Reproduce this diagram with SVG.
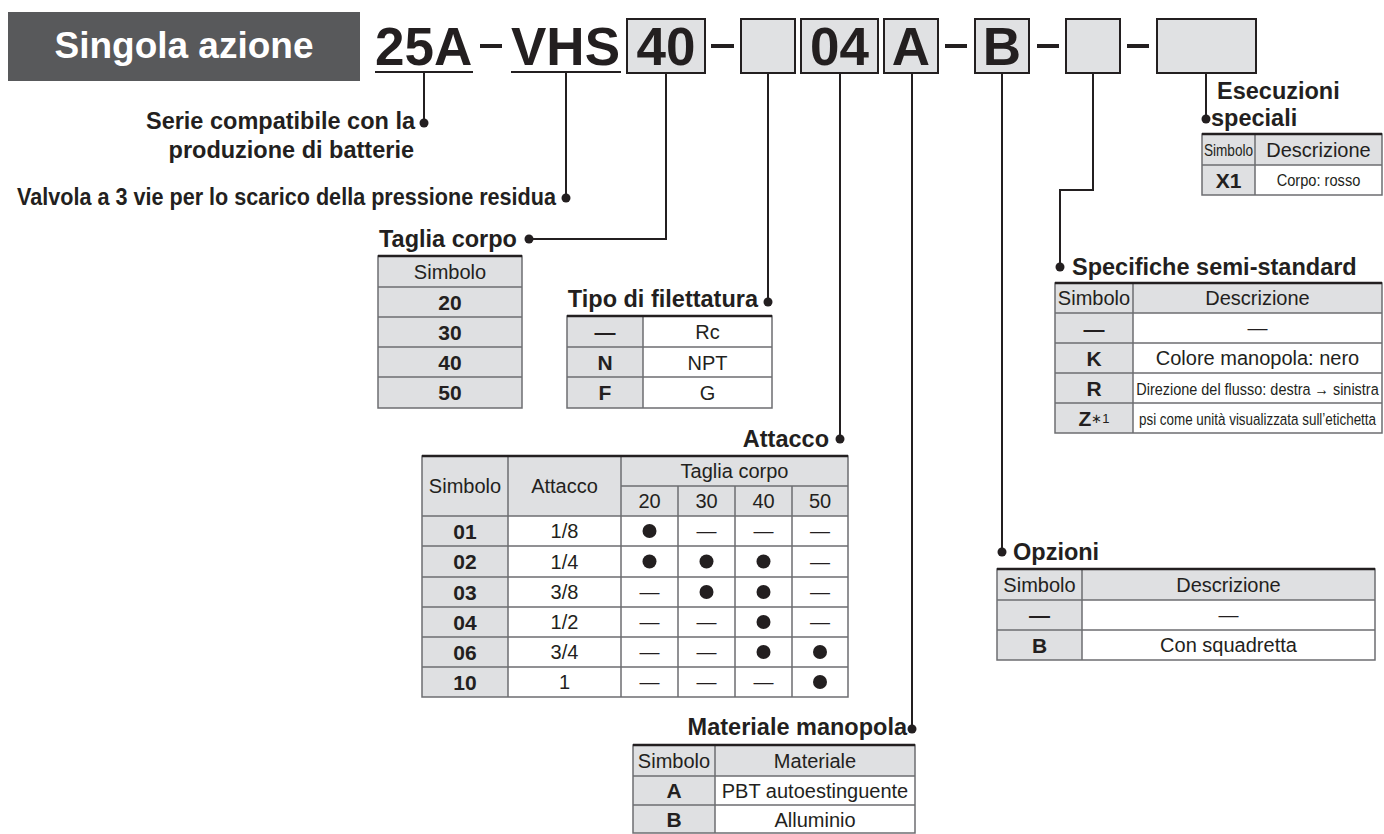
<svg xmlns="http://www.w3.org/2000/svg" width="1384" height="834" viewBox="0 0 1384 834">
<style>
text{font-family:"Liberation Sans",Arial,sans-serif;fill:#231f20}
.lbl{font-weight:bold;font-size:23.5px}
.big{font-weight:bold;font-size:53px}
.th{font-size:20px;text-anchor:middle}
.tb{font-weight:bold;font-size:21px;text-anchor:middle}
.td{font-size:20px;text-anchor:middle}
.sm{font-size:17px;text-anchor:middle}
.g{fill:#dfe0e2}
.grid{stroke:#6d6e71;stroke-width:1.5;fill:none}
.top{stroke:#231f20;stroke-width:2.5}
.box{fill:#e0e1e3;stroke:#231f20;stroke-width:2}
.dash{stroke:#231f20;stroke-width:4}
.con{stroke:#231f20;stroke-width:2;fill:none}
.dot{fill:#231f20}
</style>
<rect width="1384" height="834" fill="#fff"/>

<g id="header">
<rect x="8" y="12" width="352" height="69" fill="#58595b"/>
<text x="184" y="58" text-anchor="middle" style="font-weight:bold;font-size:37px;fill:#fff">Singola azione</text>
</g>

<g id="code">
<text class="big" x="375" y="65">25A</text>
<line x1="375" y1="72" x2="473" y2="72" stroke="#231f20" stroke-width="2"/>
<line class="dash" x1="480" y1="46" x2="502" y2="46"/>
<text class="big" x="511" y="65">VHS</text>
<line x1="511" y1="72" x2="621" y2="72" stroke="#231f20" stroke-width="2"/>
<rect class="box" x="627" y="19" width="78" height="54"/>
<text class="big" x="666" y="65" text-anchor="middle">40</text>
<line class="dash" x1="711" y1="46" x2="734" y2="46"/>
<rect class="box" x="741" y="19" width="54" height="54"/>
<rect class="box" x="801" y="19" width="77" height="54"/>
<text class="big" x="839.5" y="65" text-anchor="middle">04</text>
<rect class="box" x="884" y="19" width="54" height="54"/>
<text class="big" x="911" y="65" text-anchor="middle">A</text>
<line class="dash" x1="945" y1="46" x2="967" y2="46"/>
<rect class="box" x="975" y="19" width="54" height="54"/>
<text class="big" x="1002" y="65" text-anchor="middle">B</text>
<line class="dash" x1="1037" y1="46" x2="1059" y2="46"/>
<rect class="box" x="1066" y="19" width="54" height="54"/>
<line class="dash" x1="1127" y1="46" x2="1149" y2="46"/>
<rect class="box" x="1157" y="19" width="99" height="54"/>
</g>

<g id="connectors">
<path class="con" d="M424 73V123"/>
<path class="con" d="M566 73V198"/>
<path class="con" d="M666 73V239H529"/>
<path class="con" d="M768 73V302"/>
<path class="con" d="M840 73V439"/>
<path class="con" d="M912 73V729"/>
<path class="con" d="M1002 73V552"/>
<path class="con" d="M1093 73V190H1060V267"/>
<path class="con" d="M1206 73V119"/>
<circle class="dot" cx="424" cy="123" r="4.5"/>
<circle class="dot" cx="566" cy="198" r="4.5"/>
<circle class="dot" cx="529" cy="239" r="4.5"/>
<circle class="dot" cx="768" cy="302" r="4.5"/>
<circle class="dot" cx="840" cy="439" r="4.5"/>
<circle class="dot" cx="912" cy="729" r="4.5"/>
<circle class="dot" cx="1002" cy="552" r="4.5"/>
<circle class="dot" cx="1060" cy="267" r="4.5"/>
<circle class="dot" cx="1206" cy="119" r="4.5"/>
</g>

<g id="serie">
<text class="lbl" x="415" y="129" text-anchor="end">Serie compatibile con la</text>
<text class="lbl" x="414" y="158" text-anchor="end">produzione di batterie</text>
</g>

<g id="valvola">
<text class="lbl" x="17" y="205" textLength="539" lengthAdjust="spacingAndGlyphs">Valvola a 3 vie per lo scarico della pressione residua</text>
</g>

<g id="taglia-corpo">
<text class="lbl" x="379" y="247">Taglia corpo</text>
<rect class="g" x="378" y="256" width="144" height="152"/>
<path class="grid" d="M378 256H522V408H378Z M378 287H522 M378 317H522 M378 347H522 M378 377H522"/>
<path class="top" d="M378 256H522"/>
<text class="th" x="450" y="278.5">Simbolo</text>
<text class="tb" x="450" y="309.5">20</text>
<text class="tb" x="450" y="339.5">30</text>
<text class="tb" x="450" y="369.5">40</text>
<text class="tb" x="450" y="400">50</text>
</g>

<g id="tipo-filettatura">
<text class="lbl" x="758" y="307" text-anchor="end">Tipo di filettatura</text>
<rect class="g" x="567" y="316" width="76" height="92"/>
<path class="grid" d="M567 316H772V408H567Z M567 347H772 M567 377H772 M643 316V408"/>
<path class="top" d="M567 316H772"/>
<text class="tb" x="605" y="339">—</text>
<text class="td" x="707.5" y="339">Rc</text>
<text class="tb" x="605" y="369.5">N</text>
<text class="td" x="707.5" y="369.5">NPT</text>
<text class="tb" x="605" y="400">F</text>
<text class="td" x="707.5" y="400">G</text>
</g>

<g id="attacco">
<text class="lbl" x="829" y="447" text-anchor="end">Attacco</text>
<rect class="g" x="422" y="456" width="426" height="60"/>
<rect class="g" x="422" y="516" width="86" height="181"/>
<path class="grid" d="M422 456H848V697H422Z M621 486H848 M422 516H848 M422 546H848 M422 577H848 M422 607H848 M422 637H848 M422 667H848 M508 456V697 M621 456V697 M678 486V697 M735 486V697 M792 486V697"/>
<path class="top" d="M422 456H848"/>
<text class="th" x="465" y="493">Simbolo</text>
<text class="th" x="564.5" y="493">Attacco</text>
<text class="th" x="734.5" y="478">Taglia corpo</text>
<text class="th" x="649.5" y="508">20</text>
<text class="th" x="706.5" y="508">30</text>
<text class="th" x="763.5" y="508">40</text>
<text class="th" x="820" y="508">50</text>
<text class="tb" x="465" y="538.5">01</text><text class="td" x="564.5" y="538">1/8</text>
<text class="tb" x="465" y="569">02</text><text class="td" x="564.5" y="568.5">1/4</text>
<text class="tb" x="465" y="599.5">03</text><text class="td" x="564.5" y="599">3/8</text>
<text class="tb" x="465" y="629.5">04</text><text class="td" x="564.5" y="629">1/2</text>
<text class="tb" x="465" y="659.5">06</text><text class="td" x="564.5" y="659">3/4</text>
<text class="tb" x="465" y="689.5">10</text><text class="td" x="564.5" y="689">1</text>
<circle class="dot" cx="649.5" cy="531" r="7"/><text class="td" x="706.5" y="538">—</text><text class="td" x="763.5" y="538">—</text><text class="td" x="820" y="538">—</text>
<circle class="dot" cx="649.5" cy="561.5" r="7"/><circle class="dot" cx="706.5" cy="561.5" r="7"/><circle class="dot" cx="763.5" cy="561.5" r="7"/><text class="td" x="820" y="568.5">—</text>
<text class="td" x="649.5" y="599">—</text><circle class="dot" cx="706.5" cy="592" r="7"/><circle class="dot" cx="763.5" cy="592" r="7"/><text class="td" x="820" y="599">—</text>
<text class="td" x="649.5" y="629">—</text><text class="td" x="706.5" y="629">—</text><circle class="dot" cx="763.5" cy="622" r="7"/><text class="td" x="820" y="629">—</text>
<text class="td" x="649.5" y="659">—</text><text class="td" x="706.5" y="659">—</text><circle class="dot" cx="763.5" cy="652" r="7"/><circle class="dot" cx="820" cy="652" r="7"/>
<text class="td" x="649.5" y="689">—</text><text class="td" x="706.5" y="689">—</text><text class="td" x="763.5" y="689">—</text><circle class="dot" cx="820" cy="682" r="7"/>
</g>

<g id="materiale-manopola">
<text class="lbl" x="907" y="735" text-anchor="end">Materiale manopola</text>
<rect class="g" x="633" y="745" width="282" height="31"/>
<rect class="g" x="633" y="776" width="82" height="57"/>
<path class="grid" d="M633 745H915V833H633Z M633 776H915 M633 805H915 M715 745V833"/>
<path class="top" d="M633 745H915"/>
<text class="th" x="674" y="767.5">Simbolo</text>
<text class="th" x="815" y="767.5">Materiale</text>
<text class="tb" x="674" y="798">A</text>
<text class="td" x="815" y="797.5">PBT autoestinguente</text>
<text class="tb" x="674" y="827">B</text>
<text class="td" x="815" y="826.5">Alluminio</text>
</g>

<g id="opzioni">
<text class="lbl" x="1013" y="560">Opzioni</text>
<rect class="g" x="997" y="569" width="378" height="31"/>
<rect class="g" x="997" y="600" width="85" height="60"/>
<path class="grid" d="M997 569H1375V660H997Z M997 600H1375 M997 630H1375 M1082 569V660"/>
<path class="top" d="M997 569H1375"/>
<text class="th" x="1039.5" y="591.5">Simbolo</text>
<text class="th" x="1228.5" y="591.5">Descrizione</text>
<text class="tb" x="1039.5" y="622">—</text>
<text class="td" x="1228.5" y="622">—</text>
<text class="tb" x="1039.5" y="652.5">B</text>
<text class="td" x="1228.5" y="652">Con squadretta</text>
</g>

<g id="esecuzioni-speciali">
<text class="lbl" x="1217" y="99">Esecuzioni</text>
<text class="lbl" x="1211" y="126">speciali</text>
<rect class="g" x="1202" y="134" width="180" height="31"/>
<rect class="g" x="1202" y="165" width="53" height="30"/>
<path class="grid" d="M1202 134H1382V195H1202Z M1202 165H1382 M1255 134V195"/>
<path class="top" d="M1202 134H1382"/>
<text class="sm" transform="translate(1228.5 156) scale(0.8 1)">Simbolo</text>
<text class="th" x="1318.5" y="156.5">Descrizione</text>
<text class="tb" x="1228.5" y="187.5">X1</text>
<text class="sm" transform="translate(1318.5 186) scale(0.86 1)">Corpo: rosso</text>
</g>

<g id="specifiche-semi-standard">
<text class="lbl" x="1072" y="275">Specifiche semi-standard</text>
<rect class="g" x="1055" y="283" width="327" height="30"/>
<rect class="g" x="1055" y="313" width="78" height="120"/>
<path class="grid" d="M1055 283H1382V433H1055Z M1055 313H1382 M1055 343H1382 M1055 373H1382 M1055 403H1382 M1133 283V433"/>
<path class="top" d="M1055 283H1382"/>
<text class="th" x="1094" y="305">Simbolo</text>
<text class="th" x="1257.5" y="305">Descrizione</text>
<text class="tb" x="1094" y="335.5">—</text>
<text class="td" x="1257.5" y="335">—</text>
<text class="tb" x="1094" y="365.5">K</text>
<text class="td" x="1257.5" y="365">Colore manopola: nero</text>
<text class="tb" x="1094" y="395.5">R</text>
<text class="sm" transform="translate(1257.5 394.5) scale(0.85 1)">Direzione del flusso: destra → sinistra</text>
<text class="tb" x="1094" y="425.5">Z<tspan style="font-weight:normal;font-size:13px" dy="-3">∗1</tspan></text>
<text class="sm" transform="translate(1257.5 424.5) scale(0.79 1)">psi come unità visualizzata sull’etichetta</text>
</g>
</svg>
